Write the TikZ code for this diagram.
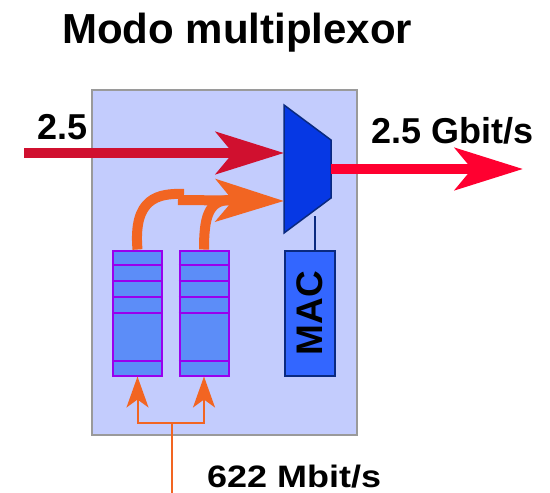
\documentclass[tikz,border=0pt]{standalone}
\usepackage{fontspec}
\setmainfont{Liberation Sans}
\usetikzlibrary{arrows.meta}
\definecolor{boxfill}{HTML}{C3CCFD}
\definecolor{boxline}{HTML}{9A9A9A}
\definecolor{qfill}{HTML}{5C8DF8}
\definecolor{qline}{HTML}{9900EE}
\definecolor{macfill}{HTML}{3366FF}
\definecolor{navy}{HTML}{0A2A80}
\definecolor{muxfill}{HTML}{0638E4}
\definecolor{redin}{HTML}{D0102F}
\definecolor{redout}{HTML}{FF0030}
\definecolor{orng}{HTML}{F26522}
\tikzset{
  lbl/.style={inner sep=0pt, font=\bfseries\fontsize{36}{40}\selectfont},
  queue/.style={draw=qline, fill=qfill, line width=2pt, minimum width=49pt, minimum height=125pt, inner sep=0pt},
  bigarrow/.style={line width=10pt, -{Stealth[length=68pt, width=42pt, inset=17pt]}},
  smallarrow/.style={draw=orng, line width=2pt, -{Stealth[length=31pt, width=22pt, inset=8pt]}},
}
\begin{document}
\begin{tikzpicture}[x=1pt,y=-1pt]
\useasboundingbox (0,0) rectangle (550,493);
% background box
\node[draw=boxline, fill=boxfill, line width=2pt, minimum width=265pt, minimum height=345pt, inner sep=0pt] (board) at (224.5,262.5) {};
% title
\node[lbl, font=\bfseries\fontsize{42}{46}\selectfont, anchor=base west] (title) at (62,43) {Modo multiplexor};
% queues
\node[queue] (q1) at (137.5,313) {};
\node[queue] (q2) at (204,313) {};
\foreach \q in {q1,q2}{
  \foreach \yy in {265,281,297,313,361}{
    \draw[qline, line width=2pt] (\q.west |- 0,\yy) -- (\q.east |- 0,\yy);
  }
}
% MAC
\node[draw=navy, fill=macfill, line width=2pt, minimum width=50pt, minimum height=125pt, inner sep=0pt] (mac) at (309.5,313) {};
\node[lbl, rotate=90, font=\bfseries\fontsize{37}{40}\selectfont] (mactext) at (mac.center) {MAC};
% multiplexer
\coordinate (mtl) at (284,105);
\coordinate (mtr) at (331,140);
\coordinate (mbr) at (331,198);
\coordinate (mbl) at (284,233);
\draw[navy, fill=muxfill, line width=1.5pt, line join=miter] (mtl) -- (mtr) -- (mbr) -- (mbl) -- cycle;
\coordinate (muxin1) at (284,153);
\coordinate (muxin2) at (284,201);
\coordinate (muxout) at (331,169);
\coordinate (muxbot) at (315,216);
\draw[navy, line width=1.5pt] (muxbot) -- (mac.north -| muxbot);
% input red arrow
\coordinate (inL) at (24,153);
\draw[bigarrow, redin] (inL) -- (muxin1);
\node[lbl, anchor=base west] (in25) at (37,139) {2.5};
% output red arrow
\coordinate (outR) at (523,169);
\draw[bigarrow, redout] (muxout) -- (outR);
\node[lbl, anchor=base west] (outlbl) at (371,143) {2.5 Gbit/s};
% orange curves
\draw[orng, line width=10pt] (q1.north) .. controls (133,198) and (158,193) .. (184,194);
\coordinate (ostart) at (178,200);
\draw[orng, bigarrow] (ostart) -- (muxin2);
\draw[orng, line width=10pt] (q2.north) .. controls (204,218) and (208,200) .. (230,200);
% bottom feed
\coordinate (feed) at (172,495);
\coordinate (junc) at (172,423);
\draw[orng, line width=2pt] (feed) -- (junc);
\draw[smallarrow] (junc) -| (q1.south);
\draw[smallarrow] (junc) -| (q2.south);
\node[lbl, anchor=base west] (bottomlbl) at (207,487) {\scalebox{1.16}[1]{\fontsize{31}{34}\selectfont 622 Mbit/s}};
\end{tikzpicture}
\end{document}
